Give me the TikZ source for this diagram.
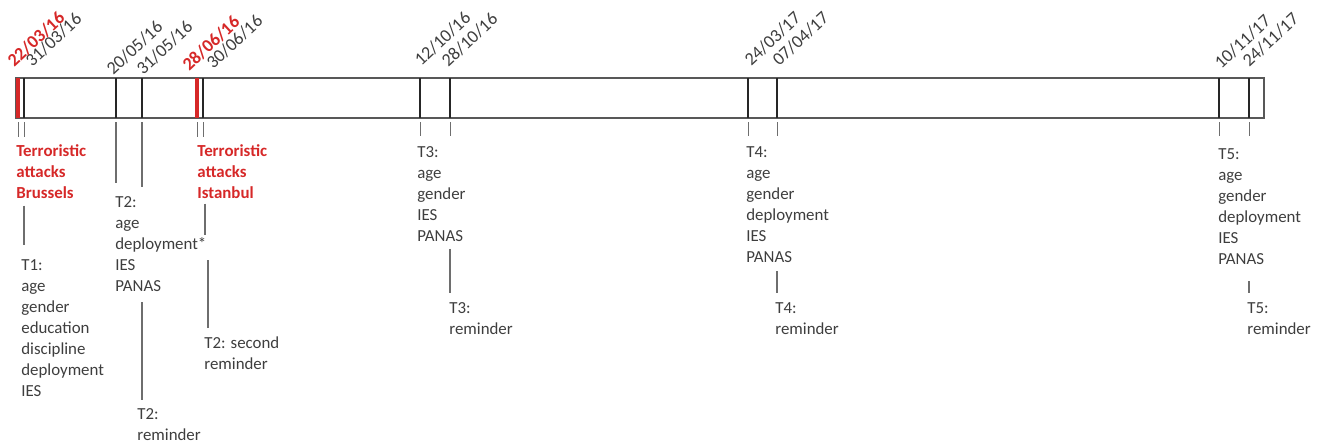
\documentclass[tikz,border=0pt]{standalone}
\usepackage{fontspec}
\setmainfont{Carlito}
\usepackage{tikz}

\definecolor{attackred}{RGB}{214,40,40}
\definecolor{textgray}{RGB}{62,62,62}
\definecolor{linegray}{RGB}{110,110,110}

\begin{document}
\begin{tikzpicture}[x=0.02cm,y=-0.02cm,
    every node/.style={font=\fontsize{9.6}{11.95}\selectfont, text=textgray, inner sep=0pt},
    date/.style={rotate=43, anchor=base west, font=\fontsize{10.3}{12}\selectfont},
    attackdate/.style={date, text=attackred, font=\fontsize{10.3}{12}\selectfont\bfseries},
    info/.style={anchor=north west, align=left},
    attack/.style={info, text=attackred, font=\fontsize{9.6}{11.95}\selectfont\bfseries},
    bar/.style={draw=linegray!80!black, line width=0.8pt},
    datemark/.style={line width=1.4pt, black!85},
    attackmark/.style={line width=2pt, attackred},
    tick/.style={linegray, line width=0.5pt},
    link/.style={linegray, line width=0.6pt}]
        \useasboundingbox (0,0) rectangle (1320,443);

        % the time bar
        \coordinate (barNW) at (16,78);
        \coordinate (barSE) at (1264,118);
        \draw[bar] (barNW) rectangle (barSE);

        % moments on the bar
        \coordinate (m1) at (18,78);
        \coordinate (m2) at (24,78);
        \coordinate (m3) at (116,78);
        \coordinate (m4) at (142,78);
        \coordinate (m5) at (197,78);
        \coordinate (m6) at (203,78);
        \coordinate (m7) at (420,78);
        \coordinate (m8) at (450,78);
        \coordinate (m9) at (748,78);
        \coordinate (m10) at (777,78);
        \coordinate (m11) at (1219,78);
        \coordinate (m12) at (1249,78);

        \draw[attackmark] (m1) -- (m1 |- barSE);
        \draw[datemark] (m2) -- (m2 |- barSE);
        \draw[datemark] (m3) -- (m3 |- barSE);
        \draw[datemark] (m4) -- (m4 |- barSE);
        \draw[attackmark] (m5) -- (m5 |- barSE);
        \draw[datemark] (m6) -- (m6 |- barSE);
        \draw[datemark] (m7) -- (m7 |- barSE);
        \draw[datemark] (m8) -- (m8 |- barSE);
        \draw[datemark] (m9) -- (m9 |- barSE);
        \draw[datemark] (m10) -- (m10 |- barSE);
        \draw[datemark] (m11) -- (m11 |- barSE);
        \draw[datemark] (m12) -- (m12 |- barSE);

        % dates
        \node[date] at (32,68) (d2) {31/03/16};
        \node[attackdate] at (14,68) (d1) {22/03/16};
        \node[date] at (113,76) (d3) {20/05/16};
        \node[date] at (143,76) (d4) {31/05/16};
        \node[date] at (213,70) (d6) {30/06/16};
        \node[attackdate] at (189,72) (d5) {28/06/16};
        \node[date] at (421,67) (d7) {12/10/16};
        \node[date] at (448,68) (d8) {28/10/16};
        \node[date] at (751,67) (d9) {24/03/17};
        \node[date] at (779,67) (d10) {07/04/17};
        \node[date] at (1221,70) (d11) {10/11/17};
        \node[date] at (1249,68) (d12) {24/11/17};

        % texts below the bar
        \node[attack] at (16,144) (brussels) {Terroristic\\attacks\\Brussels};
        \node[info] at (21,259) (t1) {T1:\\age\\gender\\education\\discipline\\deployment\\IES};
        \node[info] at (115,196) (t2) {T2:\\age\\deployment*\\IES\\PANAS};
        \node[info] at (137,408) (t2rem) {T2:\\reminder};
        \node[attack] at (197,144) (istanbul) {Terroristic\\attacks\\Istanbul};
        \node[info] at (204,336) (t2sec) {T2: second\\reminder};
        \node[info] at (417,146) (t3) {T3:\\age\\gender\\IES\\PANAS};
        \node[info] at (449,302) (t3rem) {T3:\\reminder};
        \node[info] at (746,146) (t4) {T4:\\age\\gender\\deployment\\IES\\PANAS};
        \node[info] at (775,302) (t4rem) {T4:\\reminder};
        \node[info] at (1218,148) (t5) {T5:\\age\\gender\\deployment\\IES\\PANAS};
        \node[info] at (1247,302) (t5rem) {T5:\\reminder};

        % short ticks under the bar
        \draw[tick] (m1 |- barSE) ++(0,4) -- ++(0,15);
        \draw[tick] (m2 |- barSE) ++(0,4) -- ++(0,15);
        \draw[tick] (m5 |- barSE) ++(0,4) -- ++(0,15);
        \draw[tick] (m6 |- barSE) ++(0,4) -- ++(0,15);
        \draw[tick] (m7 |- barSE) ++(0,4) -- ++(0,14);
        \draw[tick] (m8 |- barSE) ++(0,4) -- ++(0,14);
        \draw[tick] (m9 |- barSE) ++(0,4) -- ++(0,14);
        \draw[tick] (m10 |- barSE) ++(0,4) -- ++(0,14);
        \draw[tick] (m11 |- barSE) ++(0,4) -- ++(0,14);
        \draw[tick] (m12 |- barSE) ++(0,4) -- ++(0,14);

        % links to the texts
        \draw[link, shorten <=4pt, shorten >=8pt] (brussels.south -| m2) -- (t1.north -| m2);
        \draw[link, shorten <=2.3pt, shorten >=7.4pt] (m3 |- barSE) -- (t2.north -| m3);
        \draw[link, shorten <=2.3pt, shorten >=5.1pt] (m4 |- barSE) -- (t2.north -| m4);
        \draw[link, shorten <=6pt, shorten >=4.6pt] (t2.south -| m4) -- (t2rem.north -| m4);
        \draw[link] (istanbul.south -| m6) ++(2,5) -- ++(0,31);
        \draw[link] (t2sec.north west) ++(4,-8) -- ++(0,-68);
        \draw[link, shorten <=4pt, shorten >=5pt] (t3.south -| m8) -- (t3rem.north -| m8);
        \draw[link, shorten <=5pt, shorten >=5pt] (t4.south -| m10) -- (t4rem.north -| m10);
        \draw[link, shorten <=9.5pt, shorten >=5pt] (t5.south -| m12) -- (t5rem.north -| m12);
    \end{tikzpicture}
\end{document}
